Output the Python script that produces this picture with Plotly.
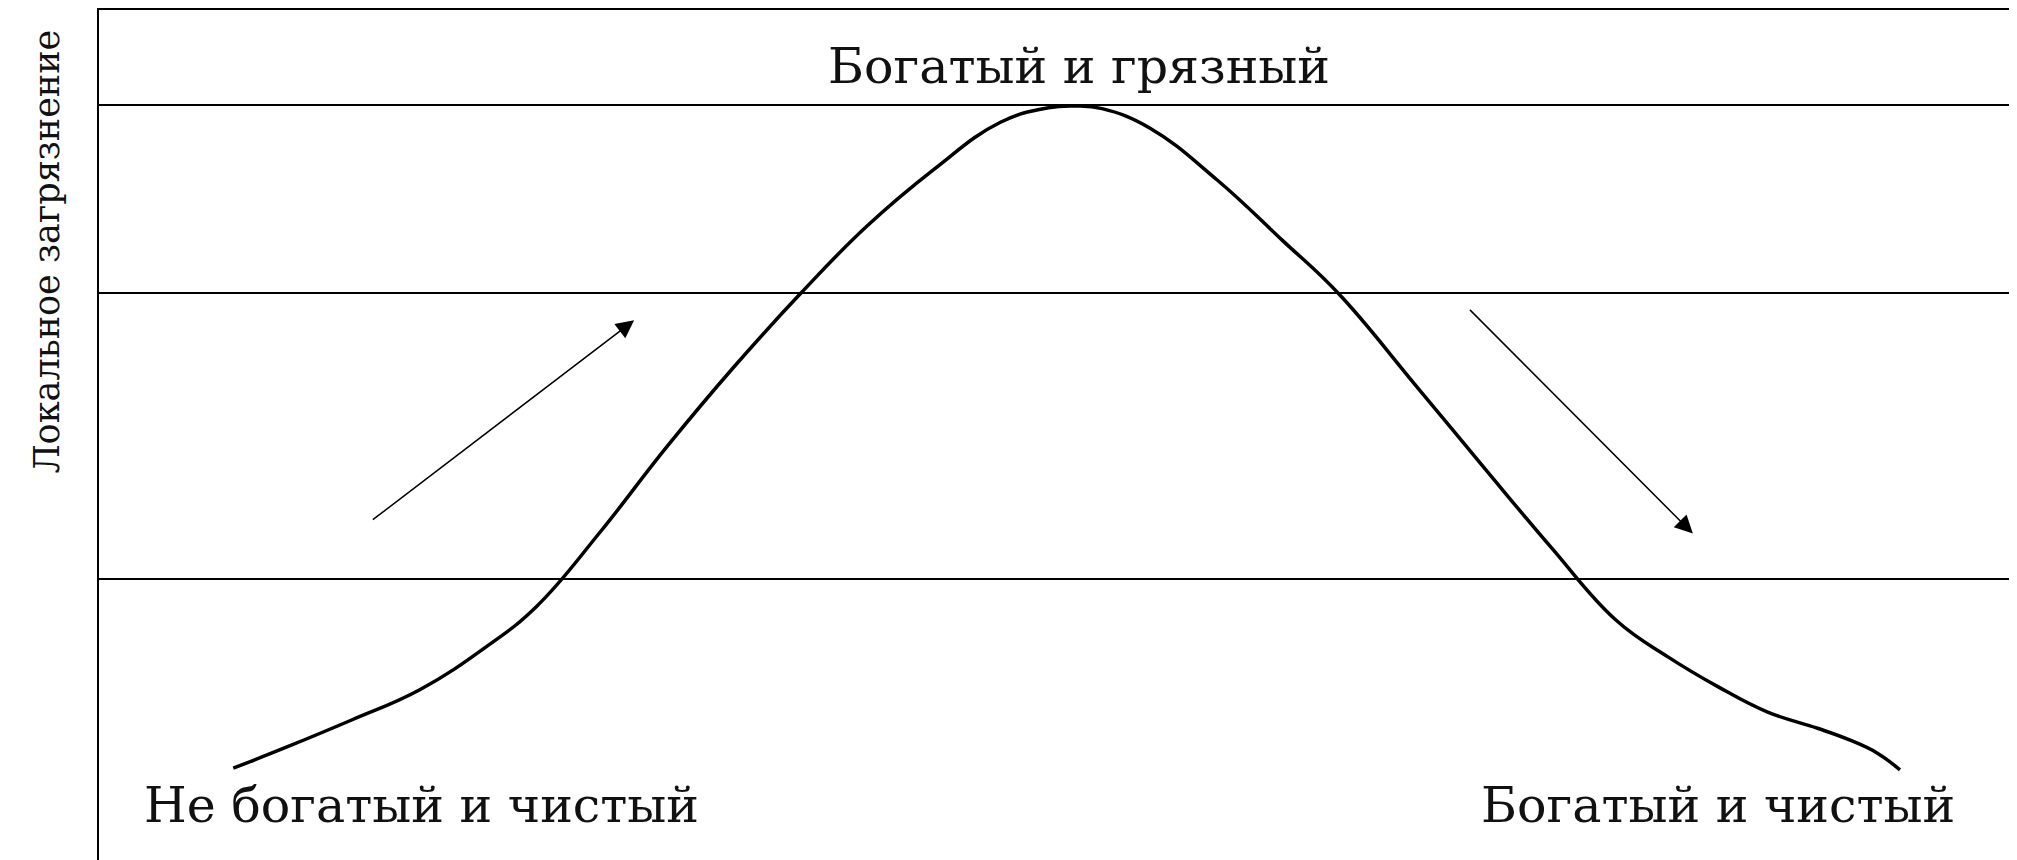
"""Экологическая кривая Кузнеца: доход против локального загрязнения."""

import plotly.graph_objects as go

# кривая (доход, загрязнение) в условных единицах 0..100
income = [7.0, 9.8, 13.2, 16.7, 20.2, 22.8, 26.1, 29.6, 33.1, 36.6, 40.0,
          43.5, 47.0, 49.5, 50.9, 52.3, 54.8, 58.3, 61.7, 64.6, 68.7, 72.2,
          75.7, 79.1, 81.8, 84.4, 87.0, 89.6, 91.3, 92.7, 93.9]
pollution = [10.8, 13.3, 16.5, 20.0, 25.1, 29.8, 38.5, 48.6, 58.0, 66.7, 74.5,
             81.2, 86.8, 88.5, 88.7, 88.4, 86.1, 80.0, 72.9, 66.7, 55.7, 46.2,
             36.8, 28.2, 23.9, 20.4, 17.4, 15.5, 14.1, 12.6, 10.6]

# уровни (горизонтальные линии)
levels = [33.06, 66.71, 88.82]

# стрелки: (x хвоста, y хвоста, x острия, y острия)
arrows = [
    (14.2, 39.9, 27.9, 63.5),
    (71.4, 64.9, 83.1, 38.4),
]

# подписи: (x, y, текст)
labels = [
    (51.1, 93.3, "Богатый и грязный"),
    (16.8, 6.4, "Не богатый и чистый"),
    (84.4, 6.4, "Богатый и чистый"),
]
y_title = "Локальное загрязнение"

FONT = "DejaVu Serif"

fig = go.Figure()
fig.add_trace(
    go.Scatter(
        x=income, y=pollution, mode="lines", line_shape="spline",
        line=dict(color="#000000", width=3.5, smoothing=1.2),
        hoverinfo="skip", showlegend=False,
    )
)

for x0, y0, x1, y1 in arrows:
    fig.add_annotation(
        x=x1, y=y1, ax=x0, ay=y0, xref="x", yref="y", axref="x", ayref="y",
        text="", showarrow=True, arrowhead=2, arrowsize=2.4, arrowwidth=1.5,
        arrowcolor="#000000",
    )

for x, y, t in labels:
    fig.add_annotation(
        x=x, y=y, xref="x", yref="y", text=t, showarrow=False,
        font=dict(family=FONT, size=49, color="#111111"),
    )

fig.add_annotation(
    x=-0.027, y=0.716, xref="paper", yref="paper", text=y_title,
    textangle=-90, showarrow=False, xanchor="center", yanchor="middle",
    font=dict(family=FONT, size=35, color="#111111"),
)

# страница добавляет 8px отступа у body, поэтому поля меньше на 8px
fig.update_layout(
    width=2009, height=852,
    paper_bgcolor="#ffffff", plot_bgcolor="#ffffff",
    margin=dict(l=91, r=0, t=2, b=0, autoexpand=False),
    showlegend=False,
    xaxis=dict(
        range=[0, 100], side="top", showline=True, linecolor="#000000",
        linewidth=2, showgrid=False, zeroline=False, showticklabels=False,
        ticks="", fixedrange=True, automargin=False,
    ),
    yaxis=dict(
        range=[0, 100], showline=True, linecolor="#000000", linewidth=2,
        tickvals=levels, showticklabels=False, ticks="",
        showgrid=True, gridcolor="#000000", gridwidth=1.5,
        zeroline=False, fixedrange=True, automargin=False,
    ),
)

fig.write_html("out.html")
